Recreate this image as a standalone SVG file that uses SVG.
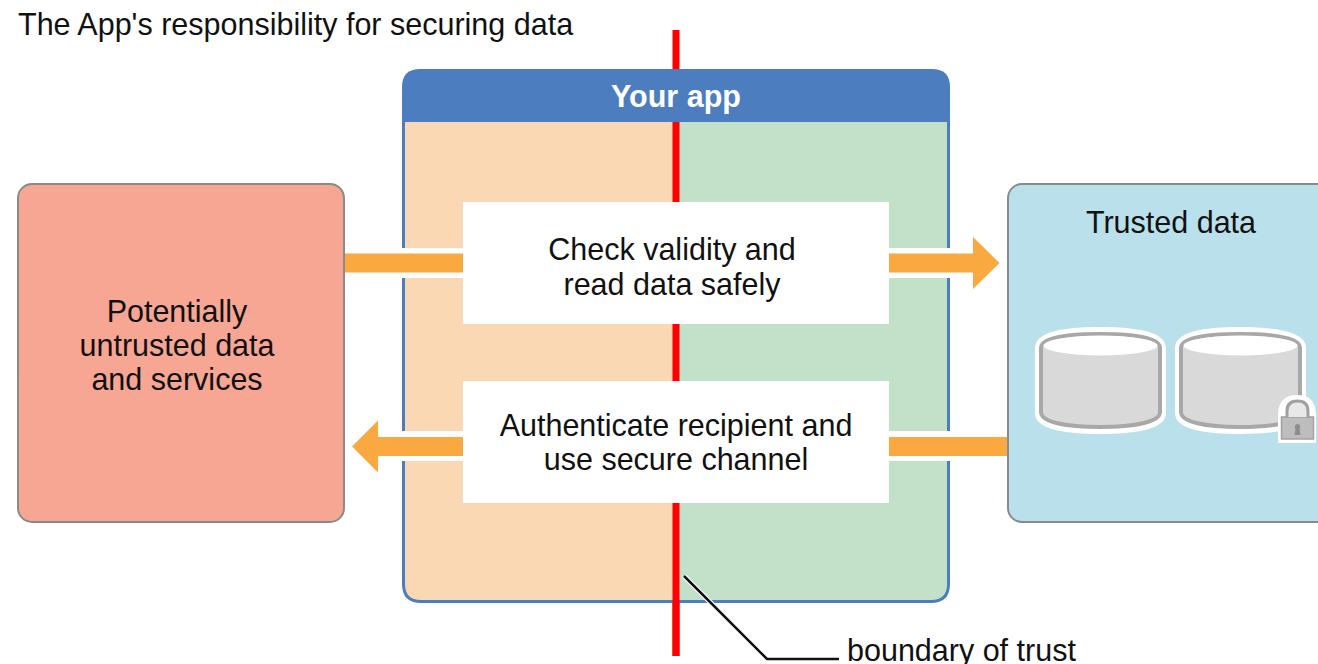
<svg xmlns="http://www.w3.org/2000/svg" width="1318" height="664" viewBox="0 0 1318 664">
<style>
text{font-family:"Liberation Sans",Arial,sans-serif;fill:#111;text-anchor:middle;font-size:30.500px}
.halo{fill:#fff}
.flow{fill:#f9a93f}
.ext{stroke:#8a8a8a;stroke-width:2}
.cylo{fill:#fff}
.cyl{fill:#d9d9d9;stroke:#a8a8a8;stroke-width:4}
.top{fill:#fff}
</style>
<defs>
<g id="cylinder">
<path class="cylo" d="M0 20C0 4 28 -1 65 -1C102 -1 131 4 131 20V85C131 101 102 106 65 106C28 106 0 101 0 85Z"/>
<path class="cyl" d="M6 20C6 10 30 6 65 6C100 6 125 10 125 20V84C125 94 100 99 65 99C30 99 6 94 6 84Z"/>
<ellipse class="top" cx="65.500" cy="17.500" rx="57" ry="10"/>
</g>
</defs>
<rect width="1318" height="664" fill="#fff"/>
<text id="title" x="18" y="34.500" style="text-anchor:start">The App's responsibility for securing data</text>
<rect id="boundary" x="672.500" y="30" width="7" height="626" fill="#f00"/>
<g id="app">
<path d="M402 122H950V584Q950 603 931 603H421Q402 603 402 584Z" fill="#4c7dbf"/>
<path d="M405 122H676V600H421Q405 600 405 584Z" fill="#fbd8b4"/>
<path d="M676 122H947V584Q947 600 931 600H676Z" fill="#c3e1c8"/>
<path d="M402 122V87Q402 69 420 69H932Q950 69 950 87V122Z" fill="#4c7dbf"/>
<text x="676" y="106.500" style="font-weight:700;fill:#fff">Your app</text>
</g>
<rect x="672.500" y="122" width="7" height="534" fill="#f00"/>
<g id="connectors">
<rect class="halo" x="344" y="248" width="119" height="30"/>
<rect class="flow" x="344" y="253.500" width="119" height="19"/>
<rect class="halo" x="889" y="248" width="84" height="30"/>
<path class="flow" d="M889 253.500H973V237L999.500 263L973 289V272.500H889Z"/>
<rect class="halo" x="378" y="431" width="85" height="30"/>
<path class="flow" d="M463 437V456H378V472.500L352 446.500L378 420.500V437Z"/>
<rect class="halo" x="889" y="431" width="119" height="30"/>
<rect class="flow" x="889" y="437" width="119" height="19"/>
<path d="M684 576L767 659H839" fill="none" stroke="#fff" stroke-width="5"/>
<path d="M684 576L767 659H839" fill="none" stroke="#111" stroke-width="2.500"/>
</g>
<g id="check">
<rect x="463" y="202" width="426" height="122" fill="#fff"/>
<text x="672" y="259.500">Check validity and</text>
<text x="672" y="294.500">read data safely</text>
</g>
<g id="auth">
<rect x="463" y="381" width="426" height="122" fill="#fff"/>
<text x="676" y="435.500">Authenticate recipient and</text>
<text x="676" y="470">use secure channel</text>
</g>
<g id="untrusted">
<rect class="ext" x="18" y="184" width="326" height="338" rx="14" fill="#f6a693"/>
<text x="177" y="321.500">Potentially</text>
<text x="177" y="355.500">untrusted data</text>
<text x="177" y="389.500">and services</text>
</g>
<g id="trusted">
<rect class="ext" x="1008" y="184" width="340" height="338" rx="14" fill="#bae0eb"/>
<text x="1171" y="232.500">Trusted data</text>
<use href="#cylinder" x="1035" y="328"/>
<use href="#cylinder" x="1175" y="328"/>
<g id="lock">
<path d="M1278 443V415Q1278 395 1297 395Q1316 395 1316 415V443Z" fill="#fff"/>
<rect x="1281.500" y="417" width="32" height="22" fill="#bdbdbd" stroke="#a0a0a0" stroke-width="1.500"/>
<path d="M1287 417V411Q1287 401 1297.500 401Q1308 401 1308 411V417" fill="#e8e8e8" stroke="#a0a0a0" stroke-width="3"/>
<path d="M1297.500 424a3 3 0 0 1 2 5l1 6h-6l1 -6a3 3 0 0 1 2 -5Z" fill="#8c8c8c"/>
</g>
</g>
<text id="boundary-label" x="847" y="660.500" style="text-anchor:start">boundary of trust</text>
</svg>
